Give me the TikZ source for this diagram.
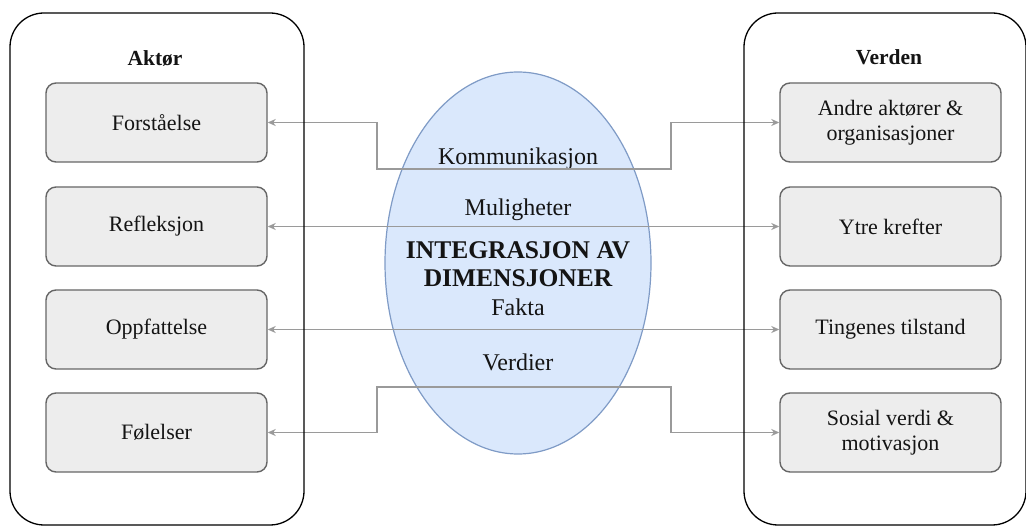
\documentclass[tikz,border=0pt]{standalone}
\usepackage{fontspec}
\setmainfont{Liberation Serif}
\usetikzlibrary{arrows.meta,shapes.geometric}

\definecolor{boxfill}{HTML}{EDEDED}
\definecolor{boxline}{HTML}{666666}
\definecolor{ellfill}{HTML}{DAE8FC}
\definecolor{ellline}{HTML}{7F9BC6}
\definecolor{linkgray}{HTML}{9A9A9A}
\definecolor{ink}{HTML}{141414}

\begin{document}
\begin{tikzpicture}[x=1pt,y=-1pt,
  panel/.style={rectangle, draw=black, line width=1.3pt, rounded corners=34pt, inner sep=0pt},
  paneltitle/.style={anchor=base, text=ink, font=\bfseries\fontsize{21.5}{25}\selectfont, inner sep=0pt},
  item/.style={rectangle, draw=boxline, fill=boxfill, line width=1.4pt, rounded corners=10pt,
    minimum width=221pt, minimum height=79pt, inner sep=0pt, align=center, text=ink,
    font=\fontsize{22}{25.5}\selectfont},
  core/.style={ellipse, draw=ellline, fill=ellfill, line width=1.2pt, inner sep=0pt,
    minimum width=266pt, minimum height=382pt},
  dimlabel/.style={anchor=base, text=ink, inner sep=0pt, font=\fontsize{24}{28}\selectfont},
  coretitle/.style={anchor=base, text=ink, inner sep=0pt, align=center,
    font=\bfseries\fontsize{25.5}{28}\selectfont},
  link/.style={draw=linkgray, line width=1.4pt, <->,
    >={Stealth[length=8pt,width=7pt,inset=2.5pt]}}
]
\useasboundingbox (0,0) rectangle (1026,526);

% central ellipse with its dimension labels
\node[core] (integ) at (518,263) {};
\node[dimlabel] (lkomm) at (518,165) {Kommunikasjon};
\node[dimlabel] (lmul) at (518,216) {Muligheter};
% base anchor of a two-line node sits on its last line
\node[coretitle] (ltitle) at (518,287) {INTEGRASJON AV\\DIMENSJONER};
\node[dimlabel] (lfakta) at (518,316) {Fakta};
\node[dimlabel] (lverdi) at (518,371) {Verdier};

% actor side
\node[item] (f1) at (156.5,122.5) {Forståelse};
\node[item] (f2) at (156.5,226.5) {Refleksjon};
\node[item] (f3) at (156.5,329.5) {Oppfattelse};
\node[item] (f4) at (156.5,432.5) {Følelser};

% world side
\node[item] (v1) at (890.5,122.5) {Andre aktører \&\\organisasjoner};
\node[item] (v2) at (890.5,226.5) {Ytre krefter};
\node[item] (v3) at (890.5,329.5) {Tingenes tilstand};
\node[item] (v4) at (890.5,432.5) {Sosial verdi \&\\motivasjon};

% bend points of the stepped connectors
\coordinate (k1) at (377,169);
\coordinate (k2) at (671,169);
\coordinate (d1) at (377,387);
\coordinate (d2) at (671,387);

% connectors
\draw[link] (f1.east) -| (k1) -- (k2) |- (v1.west);
\draw[link] (f2.east) -- (v2.west);
\draw[link] (f3.east) -- (v3.west);
\draw[link] (f4.east) -| (d1) -- (d2) |- (v4.west);

% outer panels and their titles
\node[panel, minimum width=294pt, minimum height=512pt] (aktor) at (157,269) {};
\node[panel, minimum width=282pt, minimum height=512pt] (verden) at (885,269) {};
\node[paneltitle] (taktor) at (155,66) {Aktør};
\node[paneltitle] (tverden) at (889,65) {Verden};
\end{tikzpicture}
\end{document}
